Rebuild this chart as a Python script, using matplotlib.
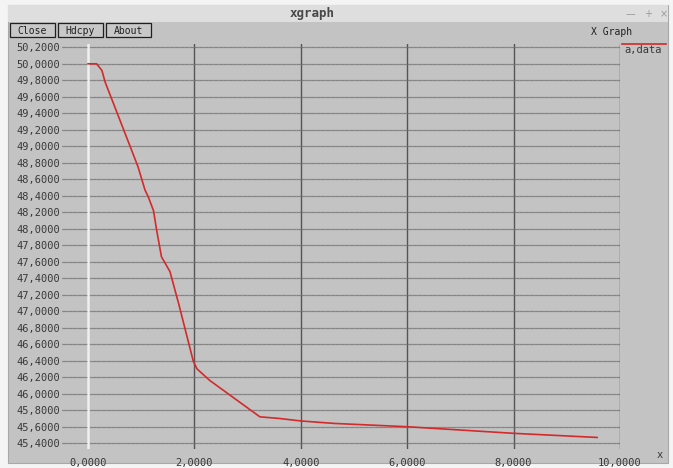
import matplotlib
matplotlib.use('Agg')
from matplotlib import pyplot as plt
from matplotlib.patches import Rectangle
from matplotlib.ticker import FuncFormatter

# Messwerte aus a.data
x_vals = [0.0, 0.16, 0.26, 0.32, 0.82, 0.94, 1.07, 1.13, 1.23, 1.29, 1.38, 1.47,
          1.54, 1.70, 1.98, 2.05, 2.29, 3.23, 3.60, 4.00, 4.63, 6.00, 8.00, 9.57]
y_vals = [50.00, 50.00, 49.92, 49.78, 48.95, 48.75, 48.47, 48.39, 48.22, 47.98, 47.66, 47.56,
          47.48, 47.10, 46.39, 46.30, 46.16, 45.72, 45.70, 45.67, 45.64, 45.60, 45.52, 45.47]

x_ticks = [0, 2, 4, 6, 8, 10]
y_ticks = [45.4 + 0.2 * i for i in range(25)]
buttons = ['Close', 'Hdcpy', 'About']

W, H = 673, 468
fig = plt.figure(figsize=(W / 100, H / 100), dpi=100)
fig.patch.set_facecolor('#f4f4f4')


def fx(px):
    return px / W


def fy(py):
    return 1 - py / H


def rect(x0, y0, x1, y1, z=-10, **kw):
    fig.add_artist(Rectangle((fx(x0), fy(y1)), fx(x1) - fx(x0), fy(y0) - fy(y1),
                             transform=fig.transFigure, zorder=z, **kw))


mono = 'DejaVu Sans Mono'
txt = '#383838'

# Fenster
rect(8, 5, 668, 463, facecolor='#c3c3c3', edgecolor='#a8a8a8', lw=0.8)
rect(8, 5, 668, 22, facecolor='#dedede', edgecolor='none', z=-9)
fig.text(fx(312), fy(14), 'xgraph', family=mono, weight='bold', fontsize=9,
         color='#484848', ha='center', va='center')
for px, s in zip([630, 648, 664], ['—', '+', '×']):
    fig.text(fx(px), fy(14), s, fontsize=7, color='#9a9a9a', ha='center', va='center')

# Knöpfe
bx = 10
for b in buttons:
    w = 7 * len(b) + 10
    rect(bx, 23, bx + w, 37, facecolor='#c8c8c8', edgecolor='#202020', lw=0.9, z=-8)
    fig.text(fx(bx + w / 2), fy(30.5), b, family=mono, fontsize=7, color='#202020',
             ha='center', va='center')
    bx += w + 3
fig.text(fx(612), fy(32), 'X Graph', family=mono, fontsize=7, color='#202020',
         ha='center', va='center')

# Diagramm
ax = fig.add_axes([fx(62), fy(449), fx(620) - fx(62), fy(44) - fy(449)])
ax.set_facecolor('#c3c3c3')
ax.set_xlim(-0.49, 10)
ax.set_ylim(45.33, 50.24)
for s in ax.spines.values():
    s.set_visible(False)

for yv in y_ticks:
    ax.axhline(yv, color='#858585', lw=0.9, zorder=1)
    ax.axhline(yv, color='#a0a0a0', lw=0.5, ls=(0, (1, 6)), zorder=1.1)
for xv in x_ticks[1:]:
    ax.axvline(xv, color='#555555', lw=1.0, zorder=1)
ax.axvline(0, color='#f0f0f0', lw=1.8, zorder=1)

ax.plot(x_vals, y_vals, color='#d42a2a', lw=1.2, zorder=3)

ax.set_xticks(x_ticks)
ax.set_yticks(y_ticks)
fmt = FuncFormatter(lambda v, p: ('%.4f' % v).replace('.', ','))
ax.xaxis.set_major_formatter(fmt)
ax.yaxis.set_major_formatter(fmt)
ax.tick_params(length=0, labelsize=7.5, labelcolor=txt)
ax.tick_params(axis='y', pad=1.5)
ax.tick_params(axis='x', pad=6.5)
for t in ax.get_xticklabels() + ax.get_yticklabels():
    t.set_family(mono)

fig.text(fx(660), fy(455), 'x', family=mono, fontsize=7.5, color=txt,
         ha='center', va='center')

# Legende
fig.add_artist(plt.Line2D([fx(622), fx(666)], [fy(44), fy(44)], color='#d42a2a', lw=1.2,
                          transform=fig.transFigure))
fig.text(fx(624), fy(50), 'a,data', family=mono, fontsize=7.5, color=txt,
         ha='left', va='center')

plt.savefig('out.png', dpi=100, facecolor=fig.get_facecolor())
